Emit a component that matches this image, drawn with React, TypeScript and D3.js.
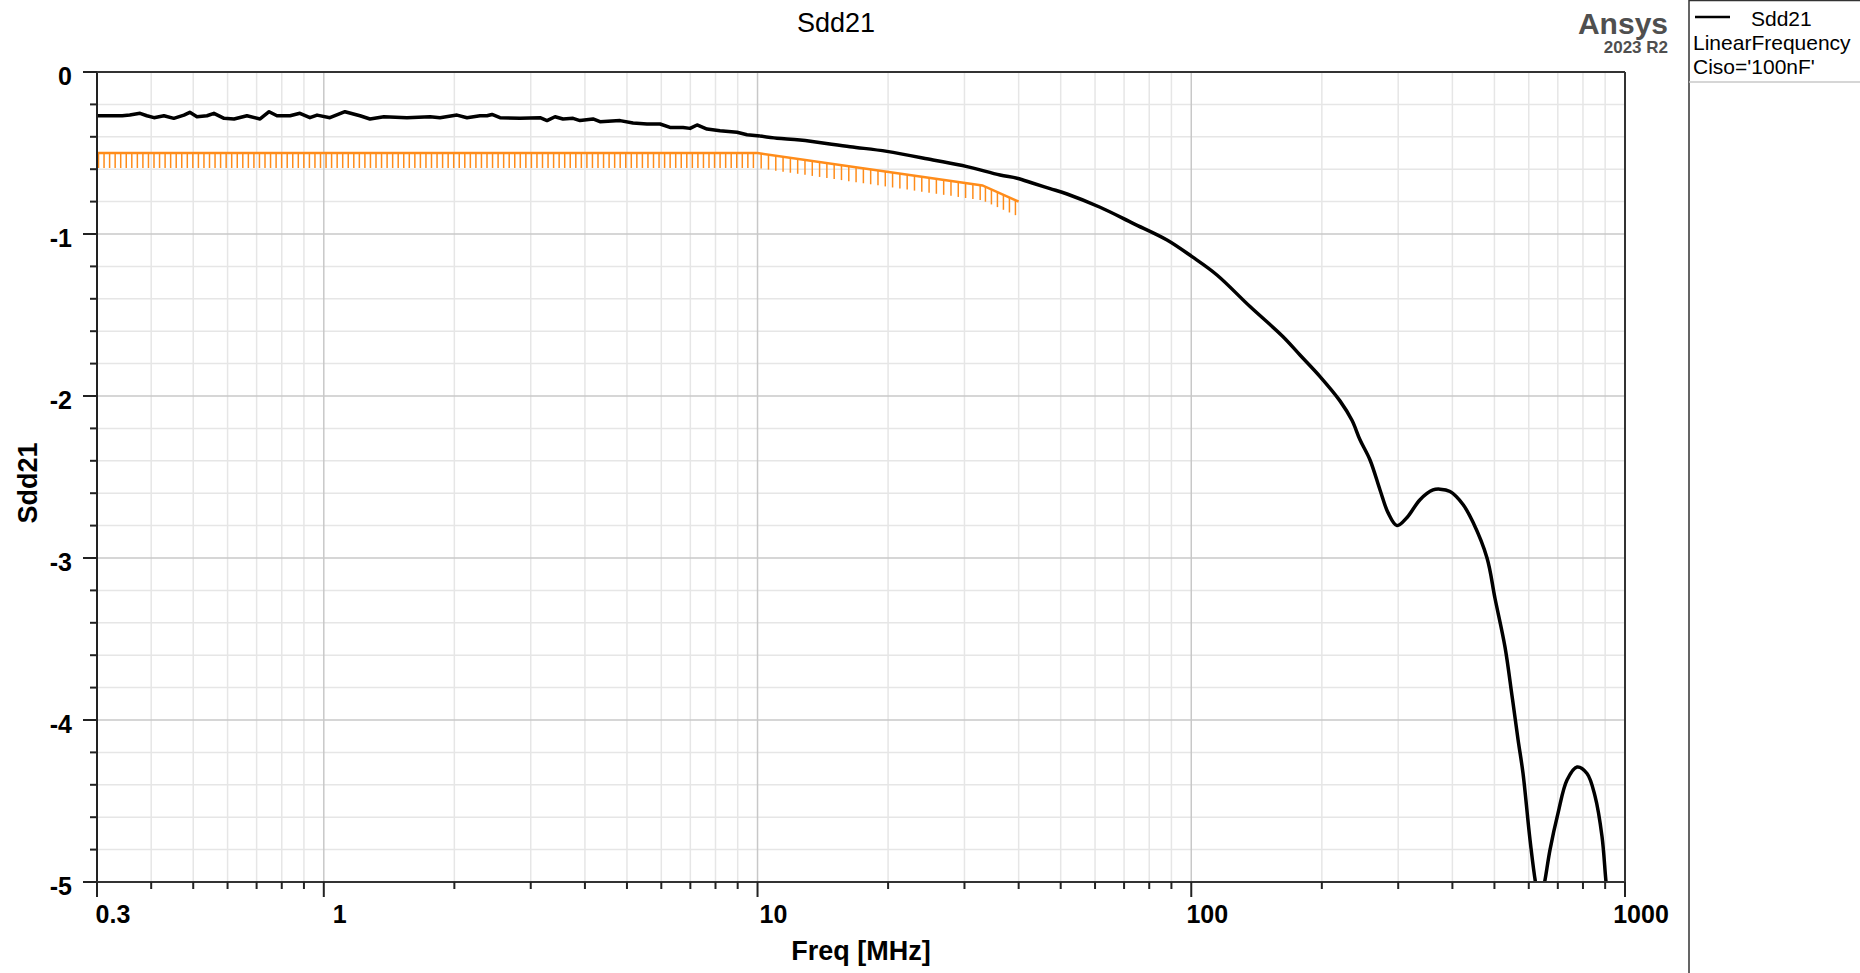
import React from "react";
import * as d3 from "d3";

// ---- data ----
const freqMHz: number[] = [
  0.3, 0.343, 0.357, 0.377, 0.391, 0.406, 0.428, 0.451, 0.476, 0.491, 0.51, 0.538, 0.558, 0.589, 0.621,
  0.665, 0.713, 0.748, 0.78, 0.836, 0.881, 0.929, 0.965, 1.033, 1.119, 1.212, 1.278, 1.376, 1.555, 1.758,
  1.853, 2.028, 2.139, 2.292, 2.378, 2.442, 2.548, 2.834, 3.152, 3.271, 3.413, 3.561, 3.755, 3.897, 4.175,
  4.333, 4.819, 5.164, 5.561, 5.96, 6.284, 6.734, 6.989, 7.253, 7.648, 8.195, 8.971, 9.459, 10.13, 11.09,
  12.53, 16.34, 19.88, 25.39, 30.41, 36.23, 39.66, 43.17, 47.25, 51.72, 61.62, 73.41, 87.93, 100.4, 114.6,
  136.6, 162.8, 178.1, 198.1, 220.2, 234.7, 244.9, 258.3, 272.4, 284.2, 298.1, 314.4, 336.8, 360.9, 374.6,
  395.0, 423.2, 446.3, 480.7, 501.6, 528.9, 548.9, 566.7, 582.0, 604.0, 623.5, 636.9, 650.6, 671.7, 700.8,
  735.1, 775.2, 817.4, 852.9, 885.2, 904.2, 913.9,
];
const sdd21: number[] = [
  -0.270, -0.270, -0.266, -0.255, -0.270, -0.282, -0.270, -0.286, -0.266, -0.249, -0.276, -0.270, -0.255, -0.286, -0.290,
  -0.270, -0.290, -0.245, -0.270, -0.270, -0.255, -0.282, -0.266, -0.282, -0.245, -0.270, -0.290, -0.276, -0.282, -0.276,
  -0.282, -0.266, -0.282, -0.270, -0.270, -0.262, -0.282, -0.286, -0.282, -0.300, -0.276, -0.290, -0.286, -0.300, -0.290,
  -0.307, -0.300, -0.315, -0.321, -0.321, -0.342, -0.342, -0.348, -0.327, -0.352, -0.362, -0.372, -0.387, -0.395, -0.409,
  -0.420, -0.461, -0.490, -0.543, -0.584, -0.636, -0.656, -0.687, -0.720, -0.753, -0.835, -0.934, -1.037, -1.140, -1.253,
  -1.448, -1.634, -1.747, -1.880, -2.030, -2.150, -2.270, -2.395, -2.580, -2.720, -2.800, -2.750, -2.640, -2.580, -2.575,
  -2.590, -2.670, -2.780, -3.000, -3.250, -3.550, -3.850, -4.120, -4.330, -4.740, -5.020, -5.120, -5.020, -4.800, -4.575,
  -4.370, -4.290, -4.330, -4.470, -4.720, -5.000, -5.100,
];

const limitFreq: number[] = [0.3, 10, 33, 40];
const limitVal: number[] = [-0.5, -0.5, -0.7, -0.8];

const yTicks: number[] = [0, -1, -2, -3, -4, -5];
const xTickLabels: string[] = ["0.3", "1", "10", "100", "1000"];
const xTickValues: number[] = [0.3, 1, 10, 100, 1000];

const titleText = "Sdd21";
const xTitle = "Freq [MHz]";
const yTitle = "Sdd21";
const legendLines: string[] = ["Sdd21", "LinearFrequency", "Ciso='100nF'"];

// ---- layout / style ----
const W = 1860;
const H = 973;
const L = 97, R = 1625, T = 72, B = 882;
const hatchSpacing = [5.55, 7.3, 6];
const hatchLen = 15;
const orange = "#ff8c1a";
const FONT = "'Liberation Sans', Arial, Helvetica, sans-serif";
const smoothFrom = 10; // MHz: above this the sweep is smooth

export default function App() {
  const x = d3.scaleLog().domain([0.3, 1000]).range([L, R]);
  const y = d3.scaleLinear().domain([-5, 0]).range([B, T]);

  const minorX: number[] = [];
  for (let dec = 0.1; dec <= 100; dec *= 10) {
    for (let k = 1; k <= 9; k++) {
      const v = +(k * dec).toPrecision(6);
      if (v > 0.3 && v < 1000) minorX.push(v);
    }
  }
  const majorX = [1, 10, 100];
  const minorY: number[] = d3.range(0, 26).map((i) => +(-i * 0.2).toFixed(2)).filter((v) => v < 0 && v > -5);

  const pts: [number, number][] = freqMHz.map((f, i) => [f, sdd21[i]]);
  const noisy = pts.filter((p) => p[0] <= smoothFrom + 0.2);
  const smooth = pts.filter((p) => p[0] >= smoothFrom);
  const lineLin = d3
    .line<[number, number]>()
    .x((d) => x(d[0]))
    .y((d) => y(d[1]));
  const lineSmooth = d3
    .line<[number, number]>()
    .x((d) => x(d[0]))
    .y((d) => y(d[1]))
    .curve(d3.curveCatmullRom.alpha(0.5));

  const limPts: [number, number][] = limitFreq.map((f, i) => [f, limitVal[i]]);
  const hatches: { x: number; y: number }[] = [];
  for (let s = 0; s < limPts.length - 1; s++) {
    const x0 = x(limPts[s][0]), y0 = y(limPts[s][1]);
    const x1 = x(limPts[s + 1][0]), y1 = y(limPts[s + 1][1]);
    const sp = hatchSpacing[s];
    for (let px = x0 + (s === 0 ? 1.5 : sp * 0.5); px <= x1 + 0.01; px += sp) {
      const t = (px - x0) / (x1 - x0);
      hatches.push({ x: px, y: y0 + t * (y1 - y0) });
    }
  }

  return (
    <svg width={W} height={H} style={{ position: "absolute", left: 0, top: 0, background: "#fff" }} fontFamily={FONT}>
      <defs>
        <clipPath id="plotclip">
          <rect x={L} y={T} width={R - L} height={B - T} />
        </clipPath>
      </defs>
      <rect x={0} y={0} width={W} height={H} fill="#fff" />

      {/* grid */}
      {minorX.filter((v) => !majorX.includes(v)).map((v) => (
        <line key={"gx" + v} x1={x(v)} x2={x(v)} y1={T} y2={B} stroke="#e6e6e6" strokeWidth={1.5} />
      ))}
      {minorY.filter((v) => !Number.isInteger(v)).map((v) => (
        <line key={"gy" + v} x1={L} x2={R} y1={y(v)} y2={y(v)} stroke="#e6e6e6" strokeWidth={1.5} />
      ))}
      {majorX.map((v) => (
        <line key={"Gx" + v} x1={x(v)} x2={x(v)} y1={T} y2={B} stroke="#c8c8c8" strokeWidth={1.5} />
      ))}
      {yTicks.filter((v) => v !== 0 && v !== -5).map((v) => (
        <line key={"Gy" + v} x1={L} x2={R} y1={y(v)} y2={y(v)} stroke="#c8c8c8" strokeWidth={1.5} />
      ))}

      {/* limit line with hatches, and the trace */}
      <g clipPath="url(#plotclip)">
        {hatches.map((h, i) => (
          <line key={"h" + i} x1={h.x} x2={h.x} y1={h.y} y2={h.y + hatchLen} stroke={orange} strokeWidth={1.5} />
        ))}
        <path d={lineLin(limPts) || ""} fill="none" stroke={orange} strokeWidth={2.5} />
        <path d={lineLin(noisy) || ""} fill="none" stroke="#000" strokeWidth={3.5} strokeLinejoin="round" />
        <path d={lineSmooth(smooth) || ""} fill="none" stroke="#000" strokeWidth={3.5} strokeLinejoin="round" />
      </g>

      {/* frame */}
      <line x1={L} x2={L} y1={T} y2={B + 15} stroke="#222" strokeWidth={2} />
      <line x1={L - 14} x2={R} y1={B} y2={B} stroke="#333" strokeWidth={2} />
      <line x1={L - 14} x2={R} y1={T} y2={T} stroke="#333" strokeWidth={2} />
      <line x1={R} x2={R} y1={T} y2={B + 15} stroke="#333" strokeWidth={2} />

      {/* y ticks */}
      {yTicks.map((v) => (
        <line key={"yt" + v} x1={L - 14} x2={L} y1={y(v)} y2={y(v)} stroke="#222" strokeWidth={2} />
      ))}
      {minorY.filter((v) => !Number.isInteger(v)).map((v) => (
        <line key={"ym" + v} x1={L - 7} x2={L} y1={y(v)} y2={y(v)} stroke="#222" strokeWidth={2} />
      ))}
      {yTicks.map((v) => (
        <text key={"yl" + v} x={72} y={y(v) + 13} textAnchor="end" fontSize={25} fontWeight="bold" fill="#000">
          {String(v)}
        </text>
      ))}

      {/* x ticks */}
      {[...majorX, 0.3, 1000].map((v) => (
        <line key={"xt" + v} x1={x(v)} x2={x(v)} y1={B} y2={B + 15} stroke="#222" strokeWidth={2} />
      ))}
      {minorX.filter((v) => !majorX.includes(v)).map((v) => (
        <line key={"xm" + v} x1={x(v)} x2={x(v)} y1={B} y2={B + 7} stroke="#222" strokeWidth={2} />
      ))}
      {xTickValues.map((v, i) => (
        <text key={"xl" + v} x={x(v) + 16} y={923} textAnchor="middle" fontSize={25} fontWeight="bold" fill="#000">
          {xTickLabels[i]}
        </text>
      ))}

      {/* titles */}
      <text x={836} y={32} textAnchor="middle" fontSize={27} fill="#000">{titleText}</text>
      <text x={861} y={960} textAnchor="middle" fontSize={27} fontWeight="bold" fill="#000">{xTitle}</text>
      <text transform={`translate(37,483) rotate(-90)`} textAnchor="middle" fontSize={27} fontWeight="bold" fill="#000">
        {yTitle}
      </text>

      {/* Ansys logo */}
      <text x={1668} y={34} textAnchor="end" fontSize={30} fontWeight="bold" fill="#4f4f4f">Ansys</text>
      <text x={1668} y={53} textAnchor="end" fontSize={17} fontWeight="bold" fill="#4f4f4f">2023 R2</text>

      {/* legend */}
      <rect x={1689} y={0.5} width={200} height={H + 10} fill="none" stroke="#333" strokeWidth={1.5} />
      <line x1={1689} x2={W} y1={82} y2={82} stroke="#c8c8c8" strokeWidth={1.5} />
      <line x1={1695} x2={1730} y1={17} y2={17} stroke="#000" strokeWidth={2.5} />
      <text x={1751} y={26} fontSize={21} fill="#000">{legendLines[0]}</text>
      <text x={1693} y={50} fontSize={21} fill="#000">{legendLines[1]}</text>
      <text x={1693} y={74} fontSize={21} fill="#000">{legendLines[2]}</text>
    </svg>
  );
}
